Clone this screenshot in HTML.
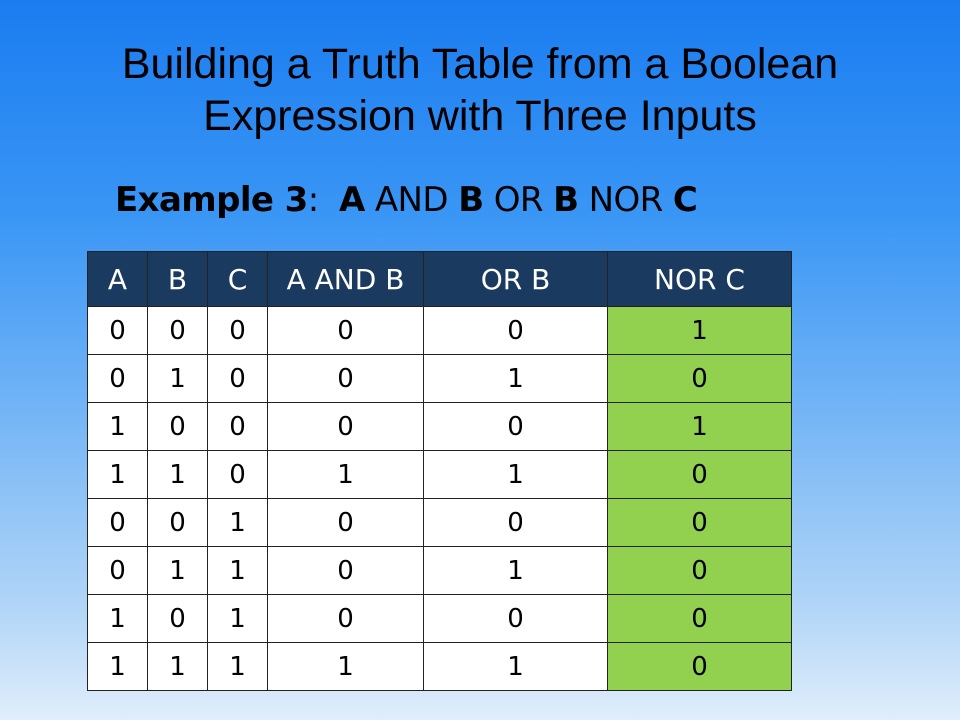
<!DOCTYPE html>
<html><head><meta charset="utf-8"><style>
html,body{margin:0;padding:0}
body{width:960px;height:720px;position:relative;overflow:hidden;
background:linear-gradient(to bottom,#1a7cf0 0%,#3a96f5 30%,#6fb2f6 55%,#b3d6f7 85%,#e0eefb 100%);
font-family:"Liberation Sans",sans-serif}
.t{position:absolute;left:0;width:960px;text-align:center;font-size:43px;color:#000}
.ex{position:absolute;left:115px;top:180px;font-size:34px;color:#000;font-family:"DejaVu Sans","Liberation Sans",sans-serif;letter-spacing:-0.6px}
table{position:absolute;left:87px;top:251px;border-collapse:collapse;font-family:"DejaVu Sans","Liberation Sans",sans-serif}
td{border:1.5px solid #222;text-align:center;font-size:26px;height:47px;padding:0;background:#fff}
tr.h td{background:#1b3a60;color:#fff;height:54px;font-size:28px}
td.g{background:#92d050}
</style></head><body>
<div class="t" style="top:40px">Building a Truth Table from a Boolean</div>
<div class="t" style="top:92px">Expression with Three Inputs</div>
<div class="ex"><b>Example 3</b>:&nbsp; <b>A</b> AND <b>B</b> OR <b>B</b> NOR <b>C</b></div>
<table>
<colgroup><col style="width:60px"><col style="width:60px"><col style="width:60px"><col style="width:156px"><col style="width:184px"><col style="width:184px"></colgroup>
<tr class="h"><td>A</td><td>B</td><td>C</td><td>A AND B</td><td>OR B</td><td>NOR C</td></tr>
<tr><td>0</td><td>0</td><td>0</td><td>0</td><td>0</td><td class="g">1</td></tr>
<tr><td>0</td><td>1</td><td>0</td><td>0</td><td>1</td><td class="g">0</td></tr>
<tr><td>1</td><td>0</td><td>0</td><td>0</td><td>0</td><td class="g">1</td></tr>
<tr><td>1</td><td>1</td><td>0</td><td>1</td><td>1</td><td class="g">0</td></tr>
<tr><td>0</td><td>0</td><td>1</td><td>0</td><td>0</td><td class="g">0</td></tr>
<tr><td>0</td><td>1</td><td>1</td><td>0</td><td>1</td><td class="g">0</td></tr>
<tr><td>1</td><td>0</td><td>1</td><td>0</td><td>0</td><td class="g">0</td></tr>
<tr><td>1</td><td>1</td><td>1</td><td>1</td><td>1</td><td class="g">0</td></tr>
</table>
</body></html>
